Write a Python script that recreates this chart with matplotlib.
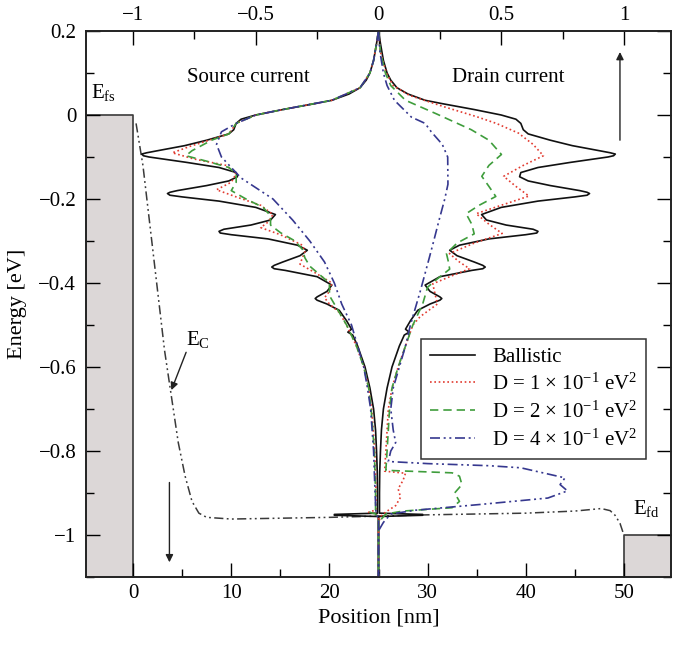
import matplotlib
matplotlib.use("Agg")
import matplotlib.pyplot as plt
from matplotlib.ticker import MultipleLocator, FuncFormatter

plt.rcParams["font.family"] = ["Liberation Serif", "DejaVu Serif"]
plt.rcParams["mathtext.fontset"] = "custom"
plt.rcParams["mathtext.rm"] = "Liberation Serif"
plt.rcParams["mathtext.it"] = "Liberation Serif:italic"
plt.rcParams["font.size"] = 15

## Data
# current spectra, normalised units (top axis), energies in eV
# ballistic: same spectrum on the source side and on the drain side
ball_E = [0.200, 0.170, 0.130, 0.100, 0.083, 0.065, 0.050, 0.035, 0.027, 0.013,
          0.000, -0.010, -0.020, -0.035, -0.045, -0.060, -0.073, -0.085, -0.090, -0.093,
          -0.097, -0.100, -0.113, -0.125, -0.137, -0.147, -0.157, -0.168, -0.180, -0.184,
          -0.187, -0.191, -0.195, -0.205, -0.220, -0.237, -0.250, -0.262, -0.272, -0.277,
          -0.281, -0.285, -0.295, -0.310, -0.322, -0.335, -0.350, -0.358, -0.362, -0.366,
          -0.370, -0.385, -0.405, -0.420, -0.433, -0.437, -0.441, -0.450, -0.465, -0.490,
          -0.510, -0.517, -0.524, -0.550, -0.600, -0.650, -0.700, -0.750, -0.800, -0.850,
          -0.900, -0.948, -0.951, -0.953, -0.956, -1.100]
ball_J = [0.000, 0.008, 0.020, 0.035, 0.050, 0.075, 0.120, 0.190, 0.260, 0.390,
          0.500, 0.560, 0.580, 0.590, 0.610, 0.700, 0.790, 0.900, 0.945, 0.965,
          0.958, 0.935, 0.780, 0.650, 0.580, 0.575, 0.610, 0.700, 0.820, 0.850,
          0.860, 0.850, 0.800, 0.650, 0.500, 0.420, 0.440, 0.520, 0.630, 0.650,
          0.645, 0.600, 0.450, 0.330, 0.290, 0.320, 0.390, 0.425, 0.435, 0.425,
          0.380, 0.250, 0.190, 0.210, 0.250, 0.258, 0.250, 0.210, 0.160, 0.130,
          0.110, 0.125, 0.105, 0.085, 0.055, 0.035, 0.020, 0.012, 0.008, 0.005,
          0.004, 0.004, 0.180, 0.180, 0.000, 0.000]

# D = 1e-1 eV^2
d1_src_E = [0.200, 0.170, 0.130, 0.100, 0.065, 0.035, 0.013, 0.000, -0.020, -0.045,
            -0.060, -0.075, -0.090, -0.105, -0.120, -0.140, -0.160, -0.178, -0.195, -0.215,
            -0.237, -0.255, -0.268, -0.285, -0.310, -0.325, -0.340, -0.355, -0.375, -0.400,
            -0.420, -0.435, -0.450, -0.470, -0.500, -0.550, -0.600, -0.650, -0.700, -0.800,
            -0.900, -0.940, -0.946, -0.950, -0.960, -1.100]
d1_src_J = [0.000, 0.008, 0.020, 0.035, 0.075, 0.190, 0.390, 0.500, 0.580, 0.610,
            0.690, 0.770, 0.840, 0.750, 0.620, 0.580, 0.600, 0.660, 0.580, 0.480,
            0.430, 0.450, 0.480, 0.400, 0.310, 0.300, 0.310, 0.320, 0.260, 0.190,
            0.200, 0.220, 0.200, 0.160, 0.130, 0.090, 0.060, 0.040, 0.028, 0.015,
            0.010, 0.010, 0.040, 0.010, 0.000, 0.000]
d1_drn_E = [0.200, 0.150, 0.100, 0.070, 0.047, 0.020, -0.004, -0.020, -0.043, -0.070,
            -0.097, -0.120, -0.146, -0.170, -0.193, -0.215, -0.235, -0.260, -0.282, -0.305,
            -0.330, -0.350, -0.366, -0.385, -0.402, -0.425, -0.450, -0.480, -0.500, -0.550,
            -0.600, -0.650, -0.700, -0.750, -0.800, -0.848, -0.853, -0.870, -0.890, -0.910,
            -0.930, -0.945, -0.955, -0.970, -1.100]
d1_drn_J = [0.000, 0.008, 0.032, 0.060, 0.125, 0.265, 0.400, 0.480, 0.570, 0.630,
            0.672, 0.590, 0.510, 0.560, 0.613, 0.500, 0.398, 0.450, 0.504, 0.390,
            0.289, 0.330, 0.371, 0.290, 0.221, 0.230, 0.240, 0.170, 0.140, 0.110,
            0.080, 0.055, 0.040, 0.035, 0.030, 0.025, 0.110, 0.100, 0.080, 0.090,
            0.070, 0.030, 0.010, 0.000, 0.000]

# D = 2e-1 eV^2
d2_src_E = [0.200, 0.170, 0.130, 0.100, 0.065, 0.035, 0.013, 0.000, -0.020, -0.045,
            -0.060, -0.085, -0.097, -0.110, -0.125, -0.140, -0.160, -0.180, -0.200, -0.220,
            -0.240, -0.262, -0.280, -0.300, -0.320, -0.340, -0.360, -0.380, -0.400, -0.430,
            -0.460, -0.500, -0.550, -0.600, -0.650, -0.700, -0.800, -0.900, -0.940, -0.946,
            -0.950, -0.960, -1.100]
d2_src_J = [0.000, 0.008, 0.020, 0.035, 0.075, 0.190, 0.390, 0.500, 0.580, 0.610,
            0.680, 0.760, 0.785, 0.700, 0.610, 0.580, 0.580, 0.600, 0.540, 0.470,
            0.440, 0.440, 0.400, 0.340, 0.310, 0.300, 0.280, 0.240, 0.200, 0.200,
            0.170, 0.130, 0.090, 0.060, 0.040, 0.030, 0.017, 0.012, 0.012, 0.035,
            0.012, 0.000, 0.000]
d2_drn_E = [0.200, 0.150, 0.100, 0.070, 0.035, 0.003, -0.035, -0.060, -0.094, -0.120,
            -0.146, -0.170, -0.194, -0.215, -0.235, -0.260, -0.283, -0.305, -0.330, -0.350,
            -0.367, -0.390, -0.410, -0.450, -0.500, -0.550, -0.600, -0.650, -0.700, -0.750,
            -0.800, -0.846, -0.852, -0.860, -0.880, -0.900, -0.920, -0.935, -0.943, -0.950,
            -0.970, -1.100]
d2_drn_J = [0.000, 0.008, 0.028, 0.050, 0.110, 0.235, 0.378, 0.450, 0.501, 0.450,
            0.421, 0.450, 0.478, 0.410, 0.357, 0.380, 0.390, 0.320, 0.277, 0.285,
            0.290, 0.240, 0.200, 0.180, 0.140, 0.110, 0.080, 0.055, 0.045, 0.040,
            0.035, 0.030, 0.300, 0.330, 0.340, 0.310, 0.330, 0.300, 0.100, 0.030,
            0.000, 0.000]

# D = 4e-1 eV^2
d4_src_E = [0.200, 0.170, 0.130, 0.100, 0.065, 0.035, 0.013, 0.000, -0.020, -0.040,
            -0.070, -0.100, -0.150, -0.200, -0.250, -0.300, -0.350, -0.400, -0.450, -0.500,
            -0.550, -0.600, -0.650, -0.700, -0.800, -0.900, -0.950, -0.960, -1.100]
d4_src_J = [0.000, 0.008, 0.020, 0.035, 0.075, 0.190, 0.390, 0.500, 0.580, 0.640,
            0.660, 0.640, 0.560, 0.430, 0.350, 0.280, 0.220, 0.180, 0.150, 0.110,
            0.085, 0.060, 0.045, 0.032, 0.020, 0.014, 0.010, 0.000, 0.000]
d4_drn_E = [0.200, 0.150, 0.100, 0.070, 0.035, -0.005, -0.020, -0.040, -0.070, -0.100,
            -0.165, -0.200, -0.250, -0.300, -0.340, -0.420, -0.500, -0.550, -0.600, -0.650,
            -0.700, -0.750, -0.780, -0.800, -0.825, -0.830, -0.835, -0.840, -0.864, -0.880,
            -0.895, -0.912, -0.927, -0.941, -0.950, -0.970, -0.990, -1.100]
d4_drn_J = [0.000, 0.006, 0.020, 0.035, 0.065, 0.134, 0.190, 0.215, 0.260, 0.282,
            0.283, 0.270, 0.247, 0.225, 0.207, 0.170, 0.130, 0.110, 0.085, 0.060,
            0.050, 0.060, 0.070, 0.050, 0.040, 0.200, 0.450, 0.580, 0.760, 0.740,
            0.770, 0.690, 0.420, 0.150, 0.050, 0.020, 0.000, 0.000]

# conduction band edge E_C along the device [nm, eV]
ec_x = [0.3, 1.0, 1.7, 2.5, 3.2, 3.9, 4.6, 5.3, 6.0, 6.7, 7.5, 10.0, 20.0, 30.0,
        40.0, 45.0, 47.7, 48.6, 49.1, 49.6, 50.0]
ec_E = [-0.02, -0.12, -0.26, -0.42, -0.56, -0.67, -0.78, -0.86, -0.92, -0.948, -0.958,
        -0.962, -0.958, -0.952, -0.948, -0.943, -0.937, -0.942, -0.953, -0.972, -1.0]

# contacts: filled states up to the Fermi levels
src_box_x = [-5, 0]
src_fermi = 0.0
drn_box_x = [50, 55]
drn_fermi = -1.0

x_mid = 25.0   # channel centre, current axis origin
x_half = 25.0  # nm per unit current

series = [
    ("Ballistic", ball_E, ball_J, ball_E, ball_J, "#111111", "-"),
    (r"D = 1 $\times$ 10$^{-1}$ eV$^2$", d1_src_E, d1_src_J, d1_drn_E, d1_drn_J,
     "#e23b30", (0, (1.0, 1.6))),
    (r"D = 2 $\times$ 10$^{-1}$ eV$^2$", d2_src_E, d2_src_J, d2_drn_E, d2_drn_J,
     "#3f9d3c", (0, (5, 3))),
    (r"D = 4 $\times$ 10$^{-1}$ eV$^2$", d4_src_E, d4_src_J, d4_drn_E, d4_drn_J,
     "#36388f", (0, (6, 2.2, 1.2, 2.2, 1.2, 2.2))),
]

fig = plt.figure(figsize=(6.74, 6.46), dpi=100)
ax = fig.add_axes([86 / 674, 69 / 646, 585 / 674, 546 / 646])
xlim = (-4.8, 54.8)
ax.set_xlim(*xlim)
ax.set_ylim(-1.1, 0.2)

# contacts
ax.fill_between(src_box_x, -1.2, src_fermi, facecolor="#dcd7d7", edgecolor="#3a3a3a", lw=1.2)
ax.fill_between(drn_box_x, -1.2, drn_fermi, facecolor="#dcd7d7", edgecolor="#3a3a3a", lw=1.2)

# band edge
ax.plot(ec_x, ec_E, color="#3a3a3a", lw=1.1, ls=(0, (6, 2.2, 1.2, 2.2, 1.2, 2.2)))

# current axis on top
ax2 = ax.twiny()
ax2.set_xlim((xlim[0] - x_mid) / x_half, (xlim[1] - x_mid) / x_half)
handles = []
for label, sE, sJ, dE, dJ, col, ls in series:
    h, = ax2.plot([-j for j in sJ], sE, color=col, ls=ls, lw=1.2, label=label)
    ax2.plot(dJ, dE, color=col, ls=ls, lw=1.2)
    handles.append(h)

# texts and arrows
ax.text(11.7, 0.09, "Source current", ha="center", va="center", fontsize=15)
ax.text(38.2, 0.09, "Drain current", ha="center", va="center", fontsize=15)
ax.text(-3.0, 0.054, r"E$_{\rm fs}$", ha="center", va="center", fontsize=15)
ax.text(52.3, -0.937, r"E$_{\rm fd}$", ha="center", va="center", fontsize=15)
ax.text(6.6, -0.535, r"E$_{\rm C}$", ha="center", va="center", fontsize=15)
arrow = dict(arrowstyle="-|>", color="#222222", lw=1.0, mutation_scale=11, shrinkA=0, shrinkB=0)
ax.annotate("", xy=(49.6, 0.15), xytext=(49.6, -0.06), arrowprops=arrow)
ax.annotate("", xy=(3.7, -1.065), xytext=(3.7, -0.875), arrowprops=arrow)
ax.annotate("", xy=(3.9, -0.655), xytext=(5.4, -0.565), arrowprops=arrow)

# ticks
fmt = FuncFormatter(lambda v, p: ("%g" % (round(v, 6) + 0.0)).replace("-", "\u2212"))
ax.xaxis.set_major_locator(MultipleLocator(10))
ax.xaxis.set_minor_locator(MultipleLocator(5))
ax.yaxis.set_major_locator(MultipleLocator(0.2))
ax.yaxis.set_minor_locator(MultipleLocator(0.1))
ax.xaxis.set_major_formatter(fmt)
ax.yaxis.set_major_formatter(fmt)
ax.tick_params(which="both", direction="in", top=False, right=True, width=1.0)
ax.tick_params(which="major", length=10, labelsize=15)
ax.tick_params(which="minor", length=5.5)
ax.tick_params(axis="x", pad=5)
ax.tick_params(axis="y", pad=7)
ax2.xaxis.set_major_locator(MultipleLocator(0.5))
ax2.xaxis.set_minor_locator(MultipleLocator(0.25))
ax2.xaxis.set_major_formatter(fmt)
ax2.tick_params(which="both", direction="in", width=1.0, pad=4)
ax2.tick_params(which="major", length=10, labelsize=15)
ax2.tick_params(which="minor", length=5.5)
for a in (ax, ax2):
    for s in a.spines.values():
        s.set_linewidth(1.2)
        s.set_color("#222222")

ax.set_xlabel("Position [nm]", fontsize=16, labelpad=4)
ax.set_ylabel("Energy [eV]", fontsize=16, labelpad=8)

leg = ax2.legend(handles=handles, loc="upper left", bbox_to_anchor=(0.573, 0.436),
                 fancybox=False, framealpha=1, edgecolor="#333333", fontsize=15,
                 handlelength=2.2, labelspacing=0.32, borderpad=0.4, handletextpad=0.8,
                 borderaxespad=0)
leg.get_frame().set_linewidth(1.1)

fig.savefig("out.png", dpi=100)
